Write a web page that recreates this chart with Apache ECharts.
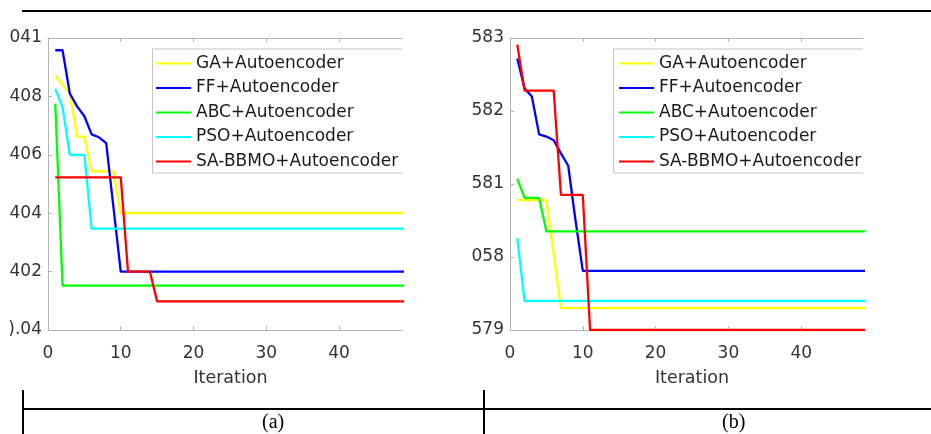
<!DOCTYPE html>
<html>
<head>
<meta charset="utf-8">
<script src="https://cdn.jsdelivr.net/npm/echarts@6/dist/echarts.min.js"></script>
<style>
  html, body { margin: 0; padding: 0; background: #fff; }
  #chart { width: 931px; height: 434px; }
</style>
</head>
<body>
<div id="chart"></div>
<script>
// iterations shared by every series (flat after convergence, last point at 50)
var iterations = [1, 2, 3, 4, 5, 6, 7, 8, 9, 10, 11, 12, 13, 14, 15, 16, 50];
var names = ["GA+Autoencoder", "FF+Autoencoder", "ABC+Autoencoder", "PSO+Autoencoder", "SA-BBMO+Autoencoder"];
var colors = ["#ffff00", "#0000ff", "#00ff00", "#00ffff", "#ff0000"];

// panel (a)
var gaA = [408.72, 408.4, 408.1, 406.62, 406.62, 405.43, 405.43, 405.43, 405.43, 404.0, 404.0, 404.0, 404.0, 404.0, 404.0, 404.0, 404.0];
var ffA = [409.58, 409.58, 408.1, 407.66, 407.32, 406.7, 406.6, 406.4, 404.2, 402.0, 402.0, 402.0, 402.0, 402.0, 402.0, 402.0, 402.0];
var abcA = [407.75, 401.52, 401.52, 401.52, 401.52, 401.52, 401.52, 401.52, 401.52, 401.52, 401.52, 401.52, 401.52, 401.52, 401.52, 401.52, 401.52];
var psoA = [408.26, 407.63, 406.0, 406.0, 406.0, 403.47, 403.47, 403.47, 403.47, 403.47, 403.47, 403.47, 403.47, 403.47, 403.47, 403.47, 403.47];
var saA = [405.23, 405.23, 405.23, 405.23, 405.23, 405.23, 405.23, 405.23, 405.23, 405.23, 402.0, 402.0, 402.0, 402.0, 400.98, 400.98, 400.98];

// panel (b)
var gaB = [580.78, 580.78, 580.78, 580.78, 580.78, 580.04, 579.3, 579.3, 579.3, 579.3, 579.3, 579.3, 579.3, 579.3, 579.3, 579.3, 579.3];
var ffB = [582.72, 582.31, 582.2, 581.68, 581.65, 581.6, 581.42, 581.25, 580.5, 579.81, 579.81, 579.81, 579.81, 579.81, 579.81, 579.81, 579.81];
var abcB = [581.07, 580.81, 580.81, 580.81, 580.35, 580.35, 580.35, 580.35, 580.35, 580.35, 580.35, 580.35, 580.35, 580.35, 580.35, 580.35, 580.35];
var psoB = [580.26, 579.4, 579.4, 579.4, 579.4, 579.4, 579.4, 579.4, 579.4, 579.4, 579.4, 579.4, 579.4, 579.4, 579.4, 579.4, 579.4];
var saB = [582.91, 582.28, 582.28, 582.28, 582.28, 582.28, 580.85, 580.85, 580.85, 580.85, 579.0, 579.0, 579.0, 579.0, 579.0, 579.0, 579.0];

// tick labels (as printed in the figure)
var xTicks = [0, 10, 20, 30, 40];
var yTicksA = [400, 402, 404, 406, 408, 410];
var yLabelsA = [").04", "402", "404", "406", "408", "041"];
var yTicksB = [579, 580, 581, 582, 583];
var yLabelsB = ["579", "058", "581", "582", "583"];
var panelLabels = ["(a)", "(b)"];

var axisGray = "#b4b4b4";
var textGray = "#333333";
var font = "DejaVu Sans";

function pairs(vals) {
  var out = [];
  for (var i = 0; i < vals.length; i++) out.push([iterations[i], vals[i]]);
  return out;
}

function bottomX(gi, max) {
  return {
    type: "value", gridIndex: gi, min: 0, max: max, interval: 10,
    name: "Iteration", nameLocation: "middle", nameGap: 39,
    nameTextStyle: { fontFamily: font, fontSize: 17.5, color: textGray, padding: [0, 0, 0, 11] },
    axisLine: { lineStyle: { color: axisGray, width: 1 } },
    axisTick: { inside: true, length: 4, lineStyle: { color: axisGray }, customValues: xTicks },
    axisLabel: { fontFamily: font, fontSize: 17, color: textGray, margin: 15, customValues: xTicks },
    splitLine: { show: false }
  };
}
function topX(gi, max) {
  return {
    type: "value", gridIndex: gi, position: "top", min: 0, max: max, interval: 10,
    axisLine: { lineStyle: { color: axisGray, width: 1 } },
    axisTick: { inside: true, length: 4, lineStyle: { color: axisGray }, customValues: xTicks },
    axisLabel: { show: false },
    splitLine: { show: false }
  };
}
function leftY(gi, ticks, labels, step) {
  return {
    type: "value", gridIndex: gi, min: ticks[0], max: ticks[ticks.length - 1], interval: step,
    axisLine: { show: true, lineStyle: { color: axisGray, width: 1 } },
    axisTick: { show: true, inside: true, length: 4, lineStyle: { color: axisGray } },
    axisLabel: {
      fontFamily: font, fontSize: 17, color: textGray, margin: 6,
      formatter: function (v) {
        var i = ticks.indexOf(v);
        return i < 0 ? "" : labels[i];
      }
    },
    splitLine: { show: false }
  };
}

var seriesA = [gaA, ffA, abcA, psoA, saA];
var seriesB = [gaB, ffB, abcB, psoB, saB];
var series = [];
[seriesA, seriesB].forEach(function (set, gi) {
  set.forEach(function (vals, k) {
    series.push({
      name: names[k], type: "line", xAxisIndex: gi * 2, yAxisIndex: gi,
      data: pairs(vals), symbol: "none", animation: false,
      lineStyle: { color: colors[k], width: 2.3 }, itemStyle: { color: colors[k] }
    });
  });
});

function legendAt(left) {
  return {
    orient: "vertical", left: left, top: 55, padding: 0, itemGap: 7.5,
    itemWidth: 35, itemHeight: 2, data: names, selectedMode: false,
    itemStyle: { opacity: 0 }, lineStyle: { width: 2 },
    textStyle: { fontFamily: font, fontSize: 17, lineHeight: 17, color: "#1a1a1a" }
  };
}

function hline(x1, x2, y) {
  return { type: "line", shape: { x1: x1, y1: y, x2: x2, y2: y }, style: { stroke: "#000", lineWidth: 2 }, z: 10 };
}
function vline(x, y1, y2) {
  return { type: "line", shape: { x1: x, y1: y1, x2: x, y2: y2 }, style: { stroke: "#000", lineWidth: 2 }, z: 10 };
}
function legendBox(x1, x2) {
  return { type: "polyline", shape: { points: [[x2, 49], [x1, 49], [x1, 173], [x2, 173]] },
           style: { stroke: "#c4c4c4", lineWidth: 1, fill: null }, z: 0 };
}

var chart = echarts.init(document.getElementById("chart"));
var option = {
  backgroundColor: "#fff",
  animation: false,
  grid: [
    { left: 48, top: 38, width: 354, height: 292 },
    { left: 510, top: 38, width: 353, height: 292 }
  ],
  xAxis: [bottomX(0, 48.66), topX(0, 48.66), bottomX(1, 48.49), topX(1, 48.49)],
  yAxis: [leftY(0, yTicksA, yLabelsA, 2), leftY(1, yTicksB, yLabelsB, 1)],
  legend: [legendAt(155), legendAt(618)],
  graphic: [
    legendBox(152.5, 402), legendBox(613.5, 863),
    hline(22, 931, 11),
    hline(23, 931, 409),
    vline(23, 390, 434),
    vline(484, 390, 434),
    { type: "text", left: 262, top: 413, style: { text: panelLabels[0], font: "20px 'Liberation Serif'", fill: "#000" } },
    { type: "text", left: 722, top: 413, style: { text: panelLabels[1], font: "20px 'Liberation Serif'", fill: "#000" } }
  ],
  series: series
};
option && chart.setOption(option);
</script>
</body>
</html>
